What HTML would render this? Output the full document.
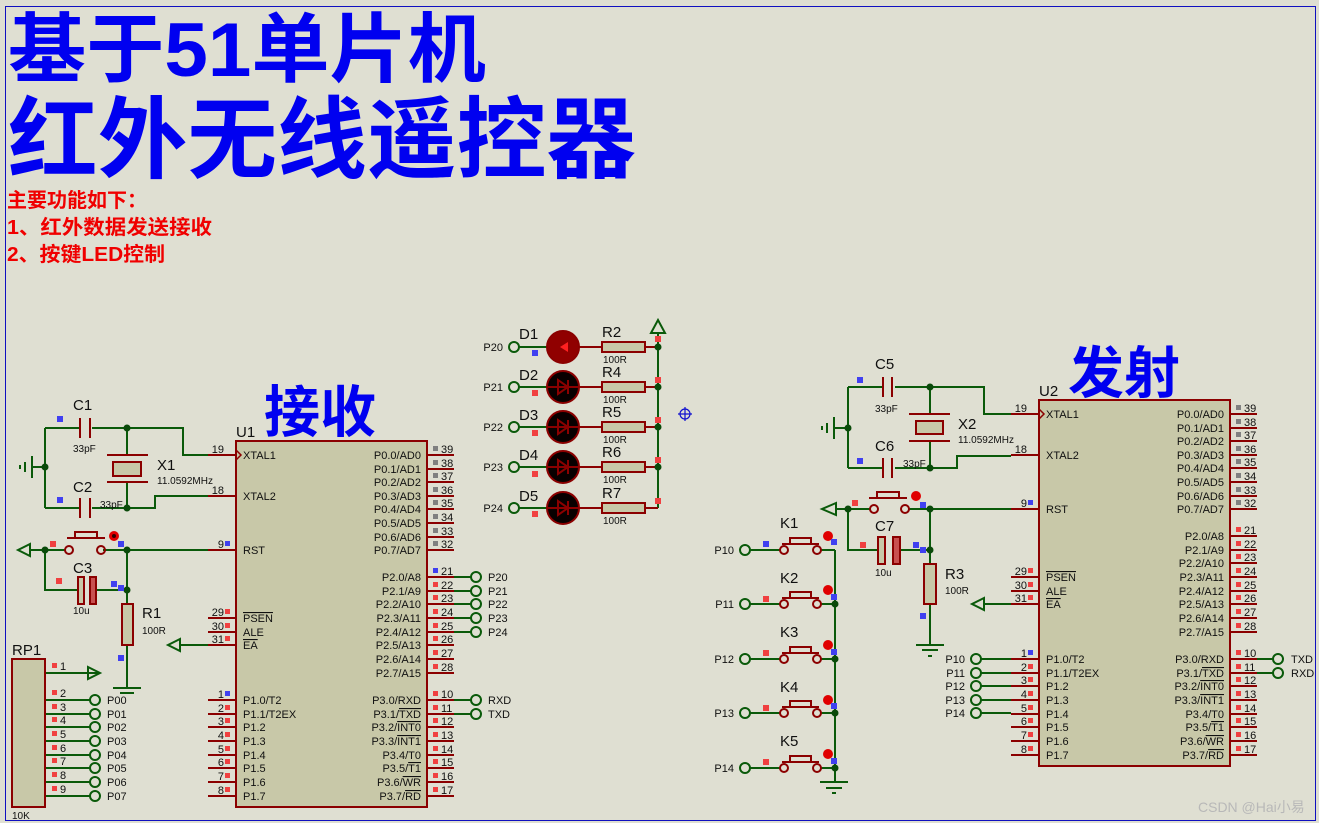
<!DOCTYPE html>
<html><head><meta charset="utf-8"><style>
html,body{margin:0;padding:0;background:#dfdfd2;}
svg{display:block;}
text{font-family:"Liberation Sans","Noto Sans CJK SC",sans-serif;}
.pl{font-size:11px;fill:#101010;}
.pn{font-size:11px;fill:#101010;}
.lb{font-size:15px;fill:#101010;}
.sm{font-size:10px;fill:#101010;}
.w{stroke:#0a5a0a;stroke-width:2;fill:none;}
.r{stroke:#8b0000;stroke-width:2;fill:none;}
.rf{stroke:#8b0000;stroke-width:2;fill:#c8c8a8;}
.j{fill:#0a4a0a;}
.tm{stroke:#0a5a0a;stroke-width:2;fill:#dfdfd2;}
.mr{fill:#f04040;}
.mb{fill:#4040f0;}
.mg{fill:#808080;}
</style></head><body>
<svg width="1319" height="823" viewBox="0 0 1319 823" xmlns="http://www.w3.org/2000/svg">
<rect x="0" y="0" width="1319" height="823" fill="#dfdfd2"/>
<rect x="5.5" y="6.5" width="1310" height="814" fill="none" stroke="#1010c0" stroke-width="1"/>

<!-- Titles -->
<text x="8" y="76" font-size="76" font-weight="bold" fill="#0000f0" textLength="478" lengthAdjust="spacingAndGlyphs">基于51单片机</text>
<text x="8" y="171" font-size="89" font-weight="bold" fill="#0000f0" textLength="628" lengthAdjust="spacingAndGlyphs">红外无线遥控器</text>
<text x="7" y="207" font-size="20" font-weight="bold" fill="#f00000">主要功能如下：</text>
<text x="7" y="234" font-size="20" font-weight="bold" fill="#f00000" textLength="205" lengthAdjust="spacingAndGlyphs">1、红外数据发送接收</text>
<text x="7" y="261" font-size="20" font-weight="bold" fill="#f00000" textLength="158" lengthAdjust="spacingAndGlyphs">2、按键LED控制</text>
<text x="264" y="432" font-size="56" font-weight="bold" fill="#0000f0" textLength="112" lengthAdjust="spacingAndGlyphs">接收</text>
<text x="1068" y="393" font-size="56" font-weight="bold" fill="#0000f0" textLength="112" lengthAdjust="spacingAndGlyphs">发射</text>

<defs>
<g id="chip">
<rect x="236" y="441" width="191" height="366" class="rf"/>
<g class="r">
<path d="M208 455H236M208 496H236M208 550H236M208 618H236M208 632H236M208 645H236M208 700H236M208 714H236M208 727H236M208 741H236M208 755H236M208 768H236M208 782H236M208 796H236"/>
<path d="M427 455H454M427 469H454M427 482H454M427 496H454M427 509H454M427 523H454M427 537H454M427 550H454"/>
<path d="M427 577H454M427 591H454M427 604H454M427 618H454M427 632H454M427 645H454M427 659H454M427 673H454"/>
<path d="M427 700H454M427 714H454M427 727H454M427 741H454M427 755H454M427 768H454M427 782H454M427 796H454"/>
<path d="M236 450L241 455L236 460" stroke-width="1.5"/>
</g>
<g class="pl">
<text x="243" y="459">XTAL1</text><text x="243" y="500">XTAL2</text><text x="243" y="554">RST</text>
<text x="243" y="622" text-decoration="overline">PSEN</text><text x="243" y="636">ALE</text><text x="243" y="649" text-decoration="overline">EA</text>
<text x="243" y="704">P1.0/T2</text><text x="243" y="718">P1.1/T2EX</text><text x="243" y="731">P1.2</text><text x="243" y="745">P1.3</text><text x="243" y="759">P1.4</text><text x="243" y="772">P1.5</text><text x="243" y="786">P1.6</text><text x="243" y="800">P1.7</text>
</g>
<g class="pl" text-anchor="end">
<text x="421" y="459">P0.0/AD0</text><text x="421" y="473">P0.1/AD1</text><text x="421" y="486">P0.2/AD2</text><text x="421" y="500">P0.3/AD3</text><text x="421" y="513">P0.4/AD4</text><text x="421" y="527">P0.5/AD5</text><text x="421" y="541">P0.6/AD6</text><text x="421" y="554">P0.7/AD7</text>
<text x="421" y="581">P2.0/A8</text><text x="421" y="595">P2.1/A9</text><text x="421" y="608">P2.2/A10</text><text x="421" y="622">P2.3/A11</text><text x="421" y="636">P2.4/A12</text><text x="421" y="649">P2.5/A13</text><text x="421" y="663">P2.6/A14</text><text x="421" y="677">P2.7/A15</text>
<text x="421" y="704">P3.0/RXD</text><text x="421" y="718">P3.1/<tspan text-decoration="overline">TXD</tspan></text><text x="421" y="731">P3.2/<tspan text-decoration="overline">INT0</tspan></text><text x="421" y="745">P3.3/<tspan text-decoration="overline">INT1</tspan></text><text x="421" y="759">P3.4/T0</text><text x="421" y="772">P3.5/<tspan text-decoration="overline">T1</tspan></text><text x="421" y="786">P3.6/<tspan text-decoration="overline">WR</tspan></text><text x="421" y="800">P3.7/<tspan text-decoration="overline">RD</tspan></text>
</g>
<g class="pn" text-anchor="end">
<text x="224" y="453">19</text><text x="224" y="494">18</text><text x="224" y="548">9</text><text x="224" y="616">29</text><text x="224" y="630">30</text><text x="224" y="643">31</text>
<text x="224" y="698">1</text><text x="224" y="712">2</text><text x="224" y="725">3</text><text x="224" y="739">4</text><text x="224" y="753">5</text><text x="224" y="766">6</text><text x="224" y="780">7</text><text x="224" y="794">8</text>
</g>
<g class="pn">
<text x="441" y="453">39</text><text x="441" y="467">38</text><text x="441" y="480">37</text><text x="441" y="494">36</text><text x="441" y="507">35</text><text x="441" y="521">34</text><text x="441" y="535">33</text><text x="441" y="548">32</text>
<text x="441" y="575">21</text><text x="441" y="589">22</text><text x="441" y="602">23</text><text x="441" y="616">24</text><text x="441" y="630">25</text><text x="441" y="643">26</text><text x="441" y="657">27</text><text x="441" y="671">28</text>
<text x="441" y="698">10</text><text x="441" y="712">11</text><text x="441" y="725">12</text><text x="441" y="739">13</text><text x="441" y="753">14</text><text x="441" y="766">15</text><text x="441" y="780">16</text><text x="441" y="794">17</text>
</g>
<g class="mg"><rect x="433" y="446" width="5" height="5"/><rect x="433" y="460" width="5" height="5"/><rect x="433" y="473" width="5" height="5"/><rect x="433" y="487" width="5" height="5"/><rect x="433" y="500" width="5" height="5"/><rect x="433" y="514" width="5" height="5"/><rect x="433" y="528" width="5" height="5"/><rect x="433" y="541" width="5" height="5"/></g>
<g class="mr">
<rect x="433" y="582" width="5" height="5"/><rect x="433" y="595" width="5" height="5"/><rect x="433" y="609" width="5" height="5"/><rect x="433" y="623" width="5" height="5"/><rect x="433" y="636" width="5" height="5"/><rect x="433" y="650" width="5" height="5"/><rect x="433" y="664" width="5" height="5"/>
<rect x="433" y="691" width="5" height="5"/><rect x="433" y="705" width="5" height="5"/><rect x="433" y="718" width="5" height="5"/><rect x="433" y="732" width="5" height="5"/><rect x="433" y="746" width="5" height="5"/><rect x="433" y="759" width="5" height="5"/><rect x="433" y="773" width="5" height="5"/><rect x="433" y="787" width="5" height="5"/>
<rect x="225" y="609" width="5" height="5"/><rect x="225" y="623" width="5" height="5"/><rect x="225" y="636" width="5" height="5"/>
<rect x="225" y="705" width="5" height="5"/><rect x="225" y="718" width="5" height="5"/><rect x="225" y="732" width="5" height="5"/><rect x="225" y="746" width="5" height="5"/><rect x="225" y="759" width="5" height="5"/><rect x="225" y="773" width="5" height="5"/><rect x="225" y="787" width="5" height="5"/>
</g>
</g>
</defs>

<use href="#chip"/>
<use href="#chip" transform="translate(803,-41)"/>
<g class="mb"><rect x="433" y="568" width="5" height="5"/><rect x="225" y="541" width="5" height="5"/><rect x="225" y="691" width="5" height="5"/><rect x="1028" y="500" width="5" height="5"/><rect x="1028" y="650" width="5" height="5"/></g>
<g class="mr"><rect x="1236" y="527" width="5" height="5"/><rect x="225" y="691" width="0" height="0"/></g>
<text x="236" y="437" class="lb">U1</text>
<text x="1039" y="396" class="lb">U2</text>

<!-- LEFT CIRCUIT -->
<g class="w">
<path d="M45 428H80M92 428H183V455H208"/>
<path d="M45 508H80M92 508H155V496H208"/>
<path d="M45 428V508M33 467H45"/>
<path d="M127 428V455M127 482V508"/>
<path d="M30 550H65M103 550H208M45 550V590H78M97 590H127M127 550V604M127 645V688"/>
<path d="M113 688H141M120 693H134" />
<path d="M180 645H208"/>
<path d="M45 673H100M45 700H90M45 714H90M45 727H90M45 741H90M45 755H90M45 768H90M45 782H90M45 796H90"/>
<path d="M454 577H471M454 591H471M454 604H471M454 618H471M454 632H471M454 700H471M454 714H471"/>
<path d="M32 456V478M25 462V472M20 465V469"/>
<path d="M30 544L18 550L30 556Z M180 639L168 645L180 651Z M88 667L100 673L88 679Z"/>
</g>
<g class="r">
<path d="M80 418V438M90 418V438M80 498V518M90 498V518"/>
<path d="M107 455H148M107 482H148"/>
<rect x="113" y="462" width="28" height="14" fill="#c8c8a8"/>
<path d="M75 538V532H97V538M67 538H105"/>
<rect x="78" y="577" width="6" height="27" fill="#c8c8a8"/>
<rect x="90" y="577" width="6" height="27" fill="#c85050"/>
<rect x="122" y="604" width="11" height="41" fill="#c8c8a8"/>
<rect x="12" y="659" width="33" height="148" fill="#c8c8a8"/>
</g>
<g class="r" stroke-width="1.5" fill="#dfdfd2"><circle cx="69" cy="550" r="4"/><circle cx="101" cy="550" r="4"/></g>
<circle cx="114" cy="536" r="5" fill="#e00000"/><circle cx="114" cy="536" r="2" fill="#300"/>
<g class="j"><circle cx="127" cy="428" r="3.5"/><circle cx="127" cy="508" r="3.5"/><circle cx="45" cy="467" r="3.5"/><circle cx="45" cy="550" r="3.5"/><circle cx="127" cy="550" r="3.5"/><circle cx="127" cy="590" r="3.5"/></g>
<g class="tm"><circle cx="95" cy="700" r="5"/><circle cx="95" cy="714" r="5"/><circle cx="95" cy="727" r="5"/><circle cx="95" cy="741" r="5"/><circle cx="95" cy="755" r="5"/><circle cx="95" cy="768" r="5"/><circle cx="95" cy="782" r="5"/><circle cx="95" cy="796" r="5"/>
<circle cx="476" cy="577" r="5"/><circle cx="476" cy="591" r="5"/><circle cx="476" cy="604" r="5"/><circle cx="476" cy="618" r="5"/><circle cx="476" cy="632" r="5"/><circle cx="476" cy="700" r="5"/><circle cx="476" cy="714" r="5"/></g>
<g class="lb"><text x="73" y="410">C1</text><text x="73" y="492">C2</text><text x="73" y="573">C3</text><text x="157" y="470">X1</text><text x="142" y="618">R1</text><text x="12" y="655">RP1</text></g>
<g class="sm"><text x="73" y="452">33pF</text><text x="100" y="508">33pF</text><text x="73" y="614">10u</text><text x="157" y="484">11.0592MHz</text><text x="142" y="634">100R</text><text x="12" y="819">10K</text></g>
<g class="pl"><text x="107" y="704">P00</text><text x="107" y="718">P01</text><text x="107" y="731">P02</text><text x="107" y="745">P03</text><text x="107" y="759">P04</text><text x="107" y="772">P05</text><text x="107" y="786">P06</text><text x="107" y="800">P07</text>
<text x="488" y="581">P20</text><text x="488" y="595">P21</text><text x="488" y="608">P22</text><text x="488" y="622">P23</text><text x="488" y="636">P24</text><text x="488" y="704">RXD</text><text x="488" y="718">TXD</text></g>
<g class="pn"><text x="60" y="670">1</text><text x="60" y="697">2</text><text x="60" y="711">3</text><text x="60" y="724">4</text><text x="60" y="738">5</text><text x="60" y="752">6</text><text x="60" y="765">7</text><text x="60" y="779">8</text><text x="60" y="793">9</text></g>
<g class="mr"><rect x="52" y="663" width="5" height="5"/><rect x="52" y="690" width="5" height="5"/><rect x="52" y="704" width="5" height="5"/><rect x="52" y="717" width="5" height="5"/><rect x="52" y="731" width="5" height="5"/><rect x="52" y="745" width="5" height="5"/><rect x="52" y="758" width="5" height="5"/><rect x="52" y="772" width="5" height="5"/><rect x="52" y="786" width="5" height="5"/><rect x="50" y="541" width="6" height="6"/><rect x="56" y="578" width="6" height="6"/></g>
<g class="mb"><rect x="57" y="416" width="6" height="6"/><rect x="57" y="497" width="6" height="6"/><rect x="118" y="541" width="6" height="6"/><rect x="111" y="581" width="6" height="6"/><rect x="118" y="585" width="6" height="6"/><rect x="118" y="655" width="6" height="6"/></g>

<!-- LEDS -->
<g class="w"><path d="M658 326V508M519 347H547M519 387H547M519 427H547M519 467H547M519 508H547"/>
<path d="M651 333L658 320L665 333Z" fill="#dfdfd2"/></g>
<g class="r">
<path d="M579 347H602M645 347H658M579 387H602M645 387H658M579 427H602M645 427H658M579 467H602M645 467H658M579 508H602M645 508H658"/>
<rect x="602" y="342" width="43" height="10" fill="#c8c8a8"/><rect x="602" y="382" width="43" height="10" fill="#c8c8a8"/><rect x="602" y="422" width="43" height="10" fill="#c8c8a8"/><rect x="602" y="462" width="43" height="10" fill="#c8c8a8"/><rect x="602" y="503" width="43" height="10" fill="#c8c8a8"/>
<circle cx="563" cy="347" r="16" fill="#900000"/>
<circle cx="563" cy="387" r="16" fill="#080000"/><circle cx="563" cy="427" r="16" fill="#080000"/><circle cx="563" cy="467" r="16" fill="#080000"/><circle cx="563" cy="508" r="16" fill="#080000"/>
<path d="M547 387H579M568 380V394M558 380V394L568 387Z M547 427H579M568 420V434M558 420V434L568 427Z M547 467H579M568 460V474M558 460V474L568 467Z M547 508H579M568 501V515M558 501V515L568 508Z"/>
</g>
<path d="M568 342V352L560 347Z" fill="#ff2020"/>
<g class="tm"><circle cx="514" cy="347" r="5"/><circle cx="514" cy="387" r="5"/><circle cx="514" cy="427" r="5"/><circle cx="514" cy="467" r="5"/><circle cx="514" cy="508" r="5"/></g>
<g class="j"><circle cx="658" cy="347" r="3.5"/><circle cx="658" cy="387" r="3.5"/><circle cx="658" cy="427" r="3.5"/><circle cx="658" cy="467" r="3.5"/></g>
<g class="pl" text-anchor="end"><text x="503" y="351">P20</text><text x="503" y="391">P21</text><text x="503" y="431">P22</text><text x="503" y="471">P23</text><text x="503" y="512">P24</text></g>
<g class="lb"><text x="519" y="339">D1</text><text x="519" y="380">D2</text><text x="519" y="420">D3</text><text x="519" y="460">D4</text><text x="519" y="501">D5</text>
<text x="602" y="337">R2</text><text x="602" y="377">R4</text><text x="602" y="417">R5</text><text x="602" y="457">R6</text><text x="602" y="498">R7</text></g>
<g class="sm"><text x="603" y="363">100R</text><text x="603" y="403">100R</text><text x="603" y="443">100R</text><text x="603" y="483">100R</text><text x="603" y="524">100R</text></g>
<rect x="532" y="350" width="6" height="6" class="mb"/>
<g class="mr"><rect x="532" y="390" width="6" height="6"/><rect x="532" y="430" width="6" height="6"/><rect x="532" y="471" width="6" height="6"/><rect x="532" y="511" width="6" height="6"/><rect x="655" y="336" width="6" height="6"/><rect x="655" y="377" width="6" height="6"/><rect x="655" y="417" width="6" height="6"/><rect x="655" y="457" width="6" height="6"/><rect x="655" y="498" width="6" height="6"/></g>
<g stroke="#1010d0" stroke-width="1.2" fill="none"><circle cx="685" cy="414" r="5"/><path d="M678 414H692M685 407V421"/></g>

<!-- RIGHT CIRCUIT -->
<g class="w">
<path d="M848 387H883M895 387H984V414H1011"/>
<path d="M848 468H883M895 468H957V456H1011"/>
<path d="M848 387V468M834 428H848"/>
<path d="M930 387V414M930 441V468"/>
<path d="M836 509H870M909 509H1011M848 509V550H878M900 550H930M930 509V564M930 604V645"/>
<path d="M916 645H944M922 650H938M928 656H932"/>
<path d="M984 604H1011"/>
<path d="M834 417V439M827 423V433M822 426V430"/>
<path d="M836 503L822 509L836 515Z M984 598L972 604L984 610Z"/>
<path d="M750 550H780M750 604H780M750 659H780M750 713H780M750 768H780"/>
<path d="M821 550H835M821 604H835M821 659H835M821 713H835M821 768H835M835 550V782M820 782H848M826 788H842M832 793H836"/>
<path d="M981 659H1011M981 673H1011M981 686H1011M981 700H1011M981 713H1011"/>
<path d="M1257 659H1273M1257 673H1273"/>
</g>
<g class="r">
<path d="M883 377V397M892 377V397M883 458V478M892 458V478"/>
<path d="M909 414H950M909 441H950"/>
<rect x="916" y="421" width="27" height="13" fill="#c8c8a8"/>
<path d="M877 498V492H899V498M869 498H907"/>
<rect x="878" y="537" width="7" height="27" fill="#c8c8a8"/>
<rect x="893" y="537" width="7" height="27" fill="#c85050"/>
<rect x="924" y="564" width="12" height="40" fill="#c8c8a8"/>
<path d="M790 544V538H811V544M782 544H819M790 598V592H811V598M782 598H819M790 653V647H811V653M782 653H819M790 707V701H811V707M782 707H819M790 762V756H811V762M782 762H819"/>
</g>
<g class="r" stroke-width="1.5" fill="#dfdfd2"><circle cx="874" cy="509" r="4"/><circle cx="905" cy="509" r="4"/>
<circle cx="784" cy="550" r="4"/><circle cx="817" cy="550" r="4"/><circle cx="784" cy="604" r="4"/><circle cx="817" cy="604" r="4"/><circle cx="784" cy="659" r="4"/><circle cx="817" cy="659" r="4"/><circle cx="784" cy="713" r="4"/><circle cx="817" cy="713" r="4"/><circle cx="784" cy="768" r="4"/><circle cx="817" cy="768" r="4"/></g>
<g fill="#e00000"><circle cx="916" cy="496" r="5"/><circle cx="828" cy="536" r="5"/><circle cx="828" cy="590" r="5"/><circle cx="828" cy="645" r="5"/><circle cx="828" cy="700" r="5"/><circle cx="828" cy="754" r="5"/></g>
<g class="j"><circle cx="930" cy="387" r="3.5"/><circle cx="930" cy="468" r="3.5"/><circle cx="848" cy="428" r="3.5"/><circle cx="848" cy="509" r="3.5"/><circle cx="930" cy="509" r="3.5"/><circle cx="930" cy="550" r="3.5"/>
<circle cx="835" cy="604" r="3.5"/><circle cx="835" cy="659" r="3.5"/><circle cx="835" cy="713" r="3.5"/><circle cx="835" cy="768" r="3.5"/></g>
<g class="tm"><circle cx="745" cy="550" r="5"/><circle cx="745" cy="604" r="5"/><circle cx="745" cy="659" r="5"/><circle cx="745" cy="713" r="5"/><circle cx="745" cy="768" r="5"/>
<circle cx="976" cy="659" r="5"/><circle cx="976" cy="673" r="5"/><circle cx="976" cy="686" r="5"/><circle cx="976" cy="700" r="5"/><circle cx="976" cy="713" r="5"/>
<circle cx="1278" cy="659" r="5"/><circle cx="1278" cy="673" r="5"/></g>
<g class="lb"><text x="875" y="369">C5</text><text x="875" y="451">C6</text><text x="875" y="531">C7</text><text x="958" y="429">X2</text><text x="945" y="579">R3</text>
<text x="780" y="528">K1</text><text x="780" y="583">K2</text><text x="780" y="637">K3</text><text x="780" y="692">K4</text><text x="780" y="746">K5</text></g>
<g class="sm"><text x="875" y="412">33pF</text><text x="903" y="467">33pF</text><text x="875" y="576">10u</text><text x="958" y="443">11.0592MHz</text><text x="945" y="594">100R</text></g>
<g class="pl" text-anchor="end"><text x="734" y="554">P10</text><text x="734" y="608">P11</text><text x="734" y="663">P12</text><text x="734" y="717">P13</text><text x="734" y="772">P14</text>
<text x="965" y="663">P10</text><text x="965" y="677">P11</text><text x="965" y="690">P12</text><text x="965" y="704">P13</text><text x="965" y="717">P14</text></g>
<g class="pl"><text x="1291" y="663">TXD</text><text x="1291" y="677">RXD</text></g>
<g class="mb"><rect x="857" y="377" width="6" height="6"/><rect x="857" y="458" width="6" height="6"/><rect x="920" y="502" width="6" height="6"/><rect x="913" y="542" width="6" height="6"/><rect x="920" y="547" width="6" height="6"/><rect x="920" y="613" width="6" height="6"/>
<rect x="763" y="541" width="6" height="6"/><rect x="831" y="539" width="6" height="6"/><rect x="831" y="594" width="6" height="6"/><rect x="831" y="649" width="6" height="6"/><rect x="831" y="703" width="6" height="6"/><rect x="831" y="758" width="6" height="6"/></g>
<g class="mr"><rect x="852" y="500" width="6" height="6"/><rect x="860" y="542" width="6" height="6"/><rect x="763" y="596" width="6" height="6"/><rect x="763" y="650" width="6" height="6"/><rect x="763" y="705" width="6" height="6"/><rect x="763" y="759" width="6" height="6"/></g>

<text x="1198" y="812" font-size="14" fill="#b8b8b8">CSDN @Hai小易</text>
</svg>
</body></html>
